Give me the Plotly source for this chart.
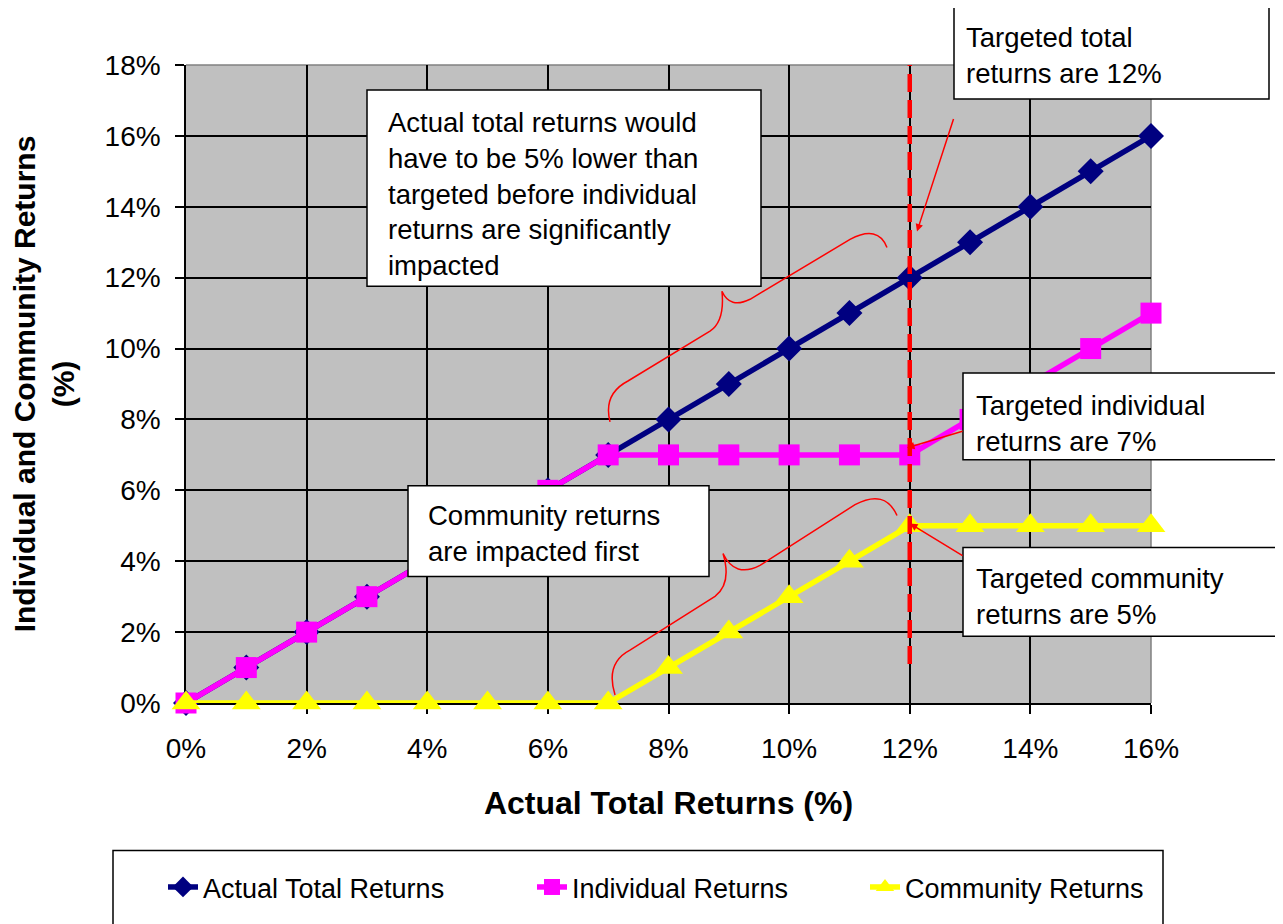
import plotly.graph_objects as go

# data (percent)
actual_x = [0, 1, 2, 3, 4, 5, 6, 7, 8, 9, 10, 11, 12, 13, 14, 15, 16]
actual_total = [0, 1, 2, 3, 4, 5, 6, 7, 8, 9, 10, 11, 12, 13, 14, 15, 16]
individual = [0, 1, 2, 3, 4, 5, 6, 7, 7, 7, 7, 7, 7, 8, 9, 10, 11]
community = [0, 0, 0, 0, 0, 0, 0, 0, 1, 2, 3, 4, 5, 5, 5, 5, 5]
target_total = 12

# page offset of the figure (body margin) and plot area in page pixels
OFF = 8
W, H = 1283 - OFF, 924 - OFF
X0, X1 = 186, 1151
Y0, Y1 = 705, 65


def px(x):
    return (x - X0) / (X1 - X0)


def py(y):
    return (Y0 - y) / (Y0 - Y1)


def to_path(segs):
    out = []
    for cmd, pts in segs:
        out.append(cmd + " ".join(f"{px(a):.4f},{py(b):.4f}" for a, b in pts))
    return " ".join(out)


FONT = "Liberation Sans, Arial, sans-serif"

fig = go.Figure()
fig.add_trace(go.Scatter(
    x=actual_x, y=actual_total, name="Actual Total Returns", mode="lines+markers",
    line=dict(color="#000080", width=5.5),
    marker=dict(symbol="diamond", size=20, color="#000080"),
    cliponaxis=False, legend="legend",
))
fig.add_trace(go.Scatter(
    x=actual_x, y=individual, name="Individual Returns", mode="lines+markers",
    line=dict(color="#FF00FF", width=5.5),
    marker=dict(symbol="square", size=21, color="#FF00FF"),
    cliponaxis=False, legend="legend2",
))
fig.add_trace(go.Scatter(
    x=actual_x, y=community, name="Community Returns", mode="lines+markers",
    line=dict(color="#FFFF00", width=5.5),
    marker=dict(symbol="triangle-up", size=25, color="#FFFF00"),
    cliponaxis=False, legend="legend3",
))

shapes = []
# plot border (top / right)
shapes.append(dict(type="line", xref="paper", yref="paper", x0=0, x1=1, y0=1, y1=1,
                   line=dict(color="#808080", width=1.5), layer="below"))
shapes.append(dict(type="line", xref="paper", yref="paper", x0=1, x1=1, y0=0, y1=1,
                   line=dict(color="#808080", width=1.5), layer="below"))
# target line
shapes.append(dict(type="line", xref="x", yref="y", x0=target_total, x1=target_total,
                   y0=1.1, y1=18, line=dict(color="#FF0000", width=4.5, dash="18px,8px"),
                   layer="above"))
# braces
brace1 = [("M", [(610, 423)]), ("Q", [(603, 395), (628, 382)]), ("L", [(710, 332)]),
          ("Q", [(725, 322), (722, 292)]), ("Q", [(730, 310), (750, 300)]),
          ("L", [(850, 240)]), ("Q", [(878, 225), (887, 248)])]
brace2 = [("M", [(615, 697)]), ("Q", [(605, 665), (630, 652)]), ("L", [(715, 598)]),
          ("Q", [(732, 585), (723, 555)]), ("Q", [(735, 580), (760, 567)]),
          ("L", [(855, 506)]), ("Q", [(885, 490), (897, 517)])]
for b in (brace1, brace2):
    shapes.append(dict(type="path", xref="paper", yref="paper", path=to_path(b),
                       line=dict(color="#FF0000", width=1.5), layer="above"))

# callout boxes: (left, top, right, bottom, text_x, text_mid_y, text)
boxes = [
    (367, 90, 761, 287, 386, 194,
     "Actual total returns would<br>have to be 5% lower than<br>targeted before individual"
     "<br>returns are significantly<br>impacted"),
    (954, 6, 1269, 99, 964, 55, "Targeted total<br>returns are 12%"),
    (963, 374, 1278, 461, 974, 425, "Targeted individual<br>returns are 7%"),
    (963, 549, 1278, 638, 974, 598, "Targeted community<br>returns are 5%"),
    (408, 487, 709, 578, 426, 535, "Community returns<br>are impacted first"),
]
annotations = []
for l, t, r, b, tx, ty, txt in boxes:
    shapes.append(dict(type="rect", xref="paper", yref="paper", x0=px(l), x1=px(r),
                       y0=py(b), y1=py(t), fillcolor="white",
                       line=dict(color="black", width=1.5), layer="above"))
    annotations.append(dict(xref="paper", yref="paper", x=px(tx), y=py(ty),
                            xanchor="left", yanchor="middle", align="left",
                            text=txt, showarrow=False,
                            font=dict(size=27.5, color="black", family=FONT)))

# arrows: head (x, y) and tail offsets
arrows = [(917, 232, 37, -114), (907, 449, 57, -17), (910, 525, 54, 33)]
for hx, hy, ax, ay in arrows:
    annotations.append(dict(xref="paper", yref="paper", x=px(hx), y=py(hy), text="",
                            showarrow=True, ax=ax, ay=ay, arrowhead=2, arrowsize=1,
                            arrowwidth=1.5, arrowcolor="#FF0000", standoff=0))

# legend frame
shapes.append(dict(type="rect", xref="paper", yref="paper", x0=px(113), x1=px(1163),
                   y0=py(940), y1=py(853), line=dict(color="black", width=1.5),
                   fillcolor="rgba(0,0,0,0)"))

leg = dict(y=py(890), xanchor="left", yanchor="middle", orientation="h",
           bgcolor="rgba(0,0,0,0)", font=dict(size=27, color="black", family=FONT))

fig.update_layout(
    width=W, height=H,
    margin=dict(l=X0 - OFF, r=W - (X1 - OFF), t=Y1 - OFF, b=H - (Y0 - OFF)),
    paper_bgcolor="white", plot_bgcolor="#C0C0C0",
    font=dict(family=FONT, color="black", size=27),
    shapes=shapes, annotations=annotations,
    showlegend=True,
    legend=dict(leg, x=px(163)),
    legend2=dict(leg, x=px(532)),
    legend3=dict(leg, x=px(865)),
    xaxis=dict(range=[0, 16], dtick=2, ticksuffix="%", showgrid=True,
               gridcolor="black", gridwidth=1.5, zeroline=False,
               showline=True, linecolor="black", linewidth=1.5,
               ticks="outside", ticklen=9, tickwidth=1.5, tickcolor="black",
               tickfont=dict(size=28), ticklabelstandoff=11, layer="below traces",
               title=dict(text="<b>Actual Total Returns (%)</b>", font=dict(size=32),
                          standoff=28)),
    yaxis=dict(range=[0, 18], dtick=2, ticksuffix="%", showgrid=True,
               gridcolor="black", gridwidth=1.5, zeroline=False,
               showline=True, linecolor="black", linewidth=1.5,
               ticks="outside", ticklen=9, tickwidth=1.5, tickcolor="black",
               tickfont=dict(size=28), ticklabelstandoff=9, layer="below traces",
               title=dict(text="<b>Individual and Community Returns<br>(%)</b>",
                          font=dict(size=30), standoff=22)),
)

fig.write_html("out.html")
